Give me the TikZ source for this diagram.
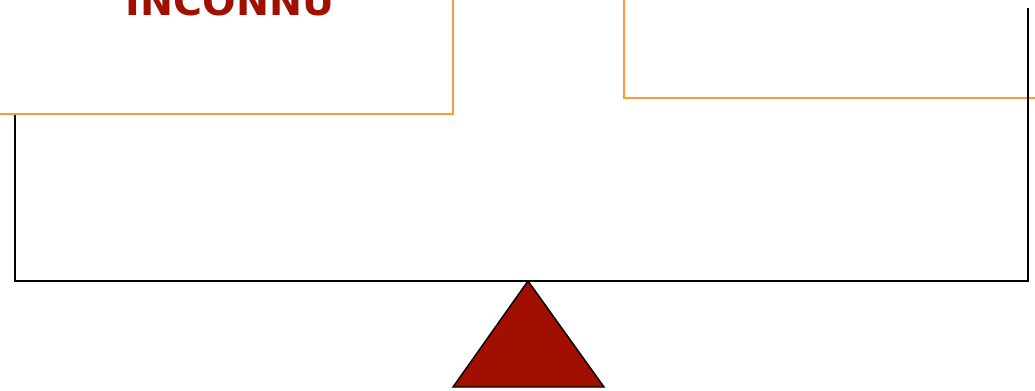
\documentclass[tikz,border=0pt]{standalone}
\usepackage{fontspec}
\setmainfont{DejaVu Sans}
\usepackage{tikz}
\usetikzlibrary{calc}
\definecolor{pan}{RGB}{255,153,51}
\definecolor{weight}{RGB}{160,15,0}

\begin{document}
\begin{tikzpicture}[x=0.75pt,y=-0.75pt]
  \useasboundingbox (0,0) rectangle (1035,390);
  \clip (0,0) rectangle (1035,390);
  % right pan
  \draw [pan,line width=1.6pt,fill=white] (624,-10) rectangle (1045,98);
  % beam
  \draw [line width=1.1pt,solid] (15,20) -- (15,281) -- (1028,281) -- (1028,8);
  % left pan
  \draw [pan,line width=1.6pt,fill=white] (-10,-10) rectangle (453,114);
  \node [anchor=base,text=weight,font=\bfseries\fontsize{29.6}{30}\selectfont,
    inner sep=0pt] (unknown) at (230,15) {INCONNU};
  % pivot
  \coordinate (top) at (528,281);
  \draw [line width=1.1pt,fill=weight,line join=miter]
    (top) -- (604,387) -- (453,387) -- cycle;
\end{tikzpicture}
\end{document}
